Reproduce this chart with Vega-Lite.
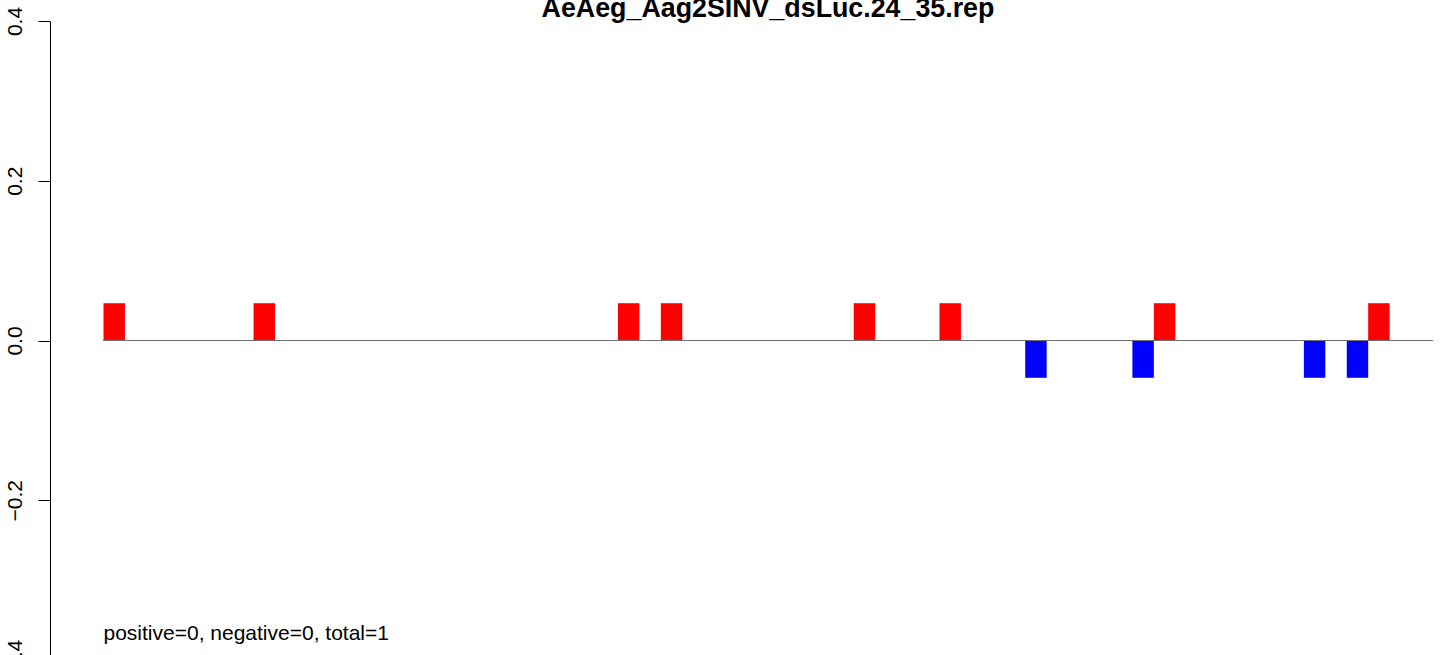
{
  "$schema": "https://vega.github.io/schema/vega-lite/v6.json",
  "autosize": {"type": "none"},
  "padding": {"left": 103.5, "top": 21, "right": 11.5, "bottom": 0},
  "width": 1329,
  "height": 634,
  "background": "white",
  "title": {
    "text": "AeAeg_Aag2SINV_dsLuc.24_35.rep",
    "font": "Liberation Sans",
    "fontSize": 26.8,
    "fontWeight": "bold",
    "color": "black",
    "anchor": "middle",
    "baseline": "alphabetic",
    "offset": 4.5,
    "dy": 42
  },
  "config": {
    "view": {"stroke": null},
    "font": "Liberation Sans"
  },
  "data": {
    "values": [
      {"pos": 1, "value": 0.0467, "strand": "plus"},
      {"pos": 8, "value": 0.0467, "strand": "plus"},
      {"pos": 25, "value": 0.0467, "strand": "plus"},
      {"pos": 27, "value": 0.0467, "strand": "plus"},
      {"pos": 36, "value": 0.0467, "strand": "plus"},
      {"pos": 40, "value": 0.0467, "strand": "plus"},
      {"pos": 44, "value": -0.0467, "strand": "minus"},
      {"pos": 49, "value": -0.0467, "strand": "minus"},
      {"pos": 50, "value": 0.0467, "strand": "plus"},
      {"pos": 57, "value": -0.0467, "strand": "minus"},
      {"pos": 59, "value": -0.0467, "strand": "minus"},
      {"pos": 60, "value": 0.0467, "strand": "plus"}
    ]
  },
  "layer": [
    {
      "mark": {"type": "bar", "strokeWidth": 0},
      "encoding": {
        "x": {
          "field": "pos",
          "type": "ordinal",
          "scale": {
            "domain": [1,2,3,4,5,6,7,8,9,10,11,12,13,14,15,16,17,18,19,20,21,22,23,24,25,26,27,28,29,30,31,32,33,34,35,36,37,38,39,40,41,42,43,44,45,46,47,48,49,50,51,52,53,54,55,56,57,58,59,60,61,62],
            "paddingInner": 0,
            "paddingOuter": 0
          },
          "axis": null
        },
        "y": {
          "field": "value",
          "type": "quantitative",
          "scale": {"domain": [-0.4, 0.4], "range": [639, 0], "nice": false, "zero": false},
          "axis": {
            "title": null,
            "values": [-0.4, -0.2, 0, 0.2, 0.4],
            "format": ".1f",
            "offset": 53.5,
            "grid": false,
            "domainColor": "black",
            "domainWidth": 1,
            "tickColor": "black",
            "tickWidth": 1,
            "tickSize": 12,
            "labelAngle": 270,
            "labelAlign": "center",
            "labelBaseline": "alphabetic",
            "labelPadding": 17,
            "labelFont": "Liberation Sans",
            "labelFontSize": 21,
            "labelColor": "black",
            "labelOverlap": false,
            "labelBound": false,
            "labelFlush": false
          }
        },
        "color": {
          "field": "strand",
          "type": "nominal",
          "scale": {"domain": ["plus", "minus"], "range": ["#ff0000", "#0000ff"]},
          "legend": null
        }
      }
    },
    {
      "mark": {"type": "rule", "color": "#6e6e6e", "strokeWidth": 1.1},
      "encoding": {"y": {"datum": 0, "type": "quantitative"}}
    },
    {
      "data": {"values": [{"label": "positive=0, negative=0, total=1"}]},
      "mark": {"type": "text", "align": "left", "baseline": "alphabetic", "fontSize": 21, "font": "Liberation Sans", "color": "black"},
      "encoding": {
        "x": {"datum": 1, "type": "ordinal", "bandPosition": 0},
        "y": {"datum": -0.375, "type": "quantitative"},
        "text": {"field": "label"}
      }
    }
  ]
}
